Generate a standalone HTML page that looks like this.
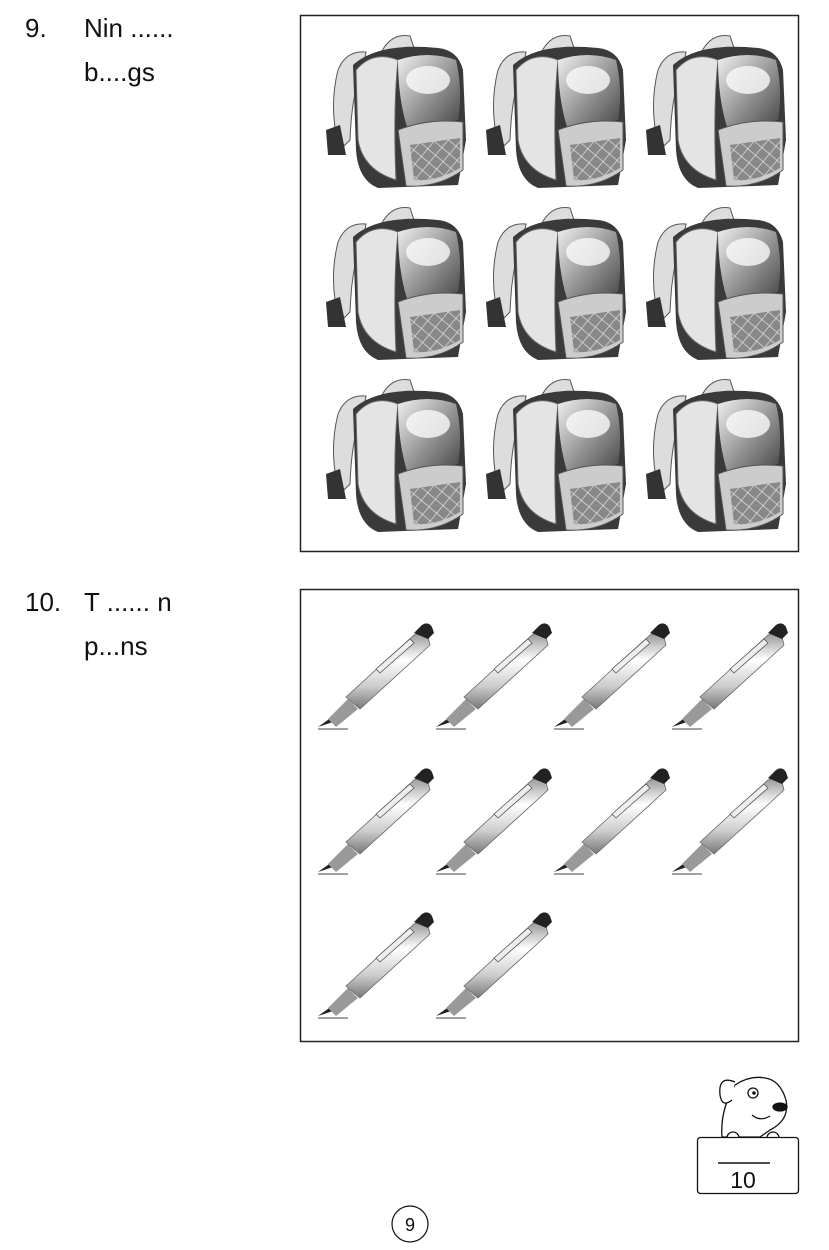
<!DOCTYPE html>
<html><head><meta charset="utf-8"><style>
html,body{margin:0;padding:0;background:#fff;}
body{width:829px;height:1250px;position:relative;overflow:hidden;font-family:"Comic Sans MS","Liberation Sans",sans-serif;color:#111;}
.t{position:absolute;font-size:26px;}
</style></head><body>
<div class="t" style="left:25px;top:13px">9.</div>
<div class="t" style="left:84px;top:13px">Nin ......</div>
<div class="t" style="left:84px;top:57px">b....gs</div>
<div class="t" style="left:25px;top:587px">10.</div>
<div class="t" style="left:84px;top:587px">T ...... n</div>
<div class="t" style="left:84px;top:631px">p...ns</div>

<svg width="829" height="1250" style="position:absolute;left:0;top:0">
<defs>
<linearGradient id="bg1" x1="0" y1="0" x2="1" y2="1"><stop offset="0" stop-color="#f0f0f0"/><stop offset="0.5" stop-color="#999"/><stop offset="1" stop-color="#444"/></linearGradient>
<linearGradient id="pg" x1="0" y1="0" x2="0" y2="1"><stop offset="0" stop-color="#999"/><stop offset="0.35" stop-color="#fff"/><stop offset="0.7" stop-color="#ccc"/><stop offset="1" stop-color="#777"/></linearGradient>
<pattern id="hatch" width="10" height="10" patternUnits="userSpaceOnUse" patternTransform="rotate(40)"><rect width="10" height="10" fill="#888"/><path d="M0 0H10M0 0V10" stroke="#ddd" stroke-width="1.5"/></pattern>
<g id="bp">
 <path d="M20 40 Q28 20 48 22 L44 45 Q34 60 32 110 L22 120 Q10 80 20 40Z" fill="#ddd" stroke="#555"/>
 <path d="M60 30 Q70 2 92 6 L96 18 Q78 14 72 32Z" fill="#ddd" stroke="#555"/>
 <path d="M8 100 L22 95 L28 125 L10 125Z" fill="#333"/>
 <path d="M35 35 Q60 12 120 18 Q140 20 145 40 L148 110 L140 155 L60 158 Q40 150 38 120Z" fill="#3a3a3a"/>
 <path d="M38 40 Q55 20 80 30 Q75 80 78 150 Q45 140 40 110Z" fill="#e4e4e4" stroke="#666"/>
 <path d="M80 30 Q110 20 138 30 Q145 60 140 90 L90 100 Q80 70 80 30Z" fill="url(#bg1)"/>
 <ellipse cx="110" cy="50" rx="22" ry="14" fill="#fafafa" opacity="0.8"/>
 <path d="M80 100 Q110 88 145 92 L145 140 Q120 158 88 156Z" fill="#ccc" stroke="#555"/>
 <path d="M92 115 L142 108 L142 138 Q118 152 96 150Z" fill="url(#hatch)"/>
</g>
<g id="pen">
 <path d="M0 110 L14 100 L18 104 Z" fill="#222"/>
 <path d="M10 102 L30 82 L40 92 L18 110 Z" fill="#999"/>
 <path d="M28 80 L96 18 Q104 14 110 20 L112 28 L42 92 Z" fill="url(#pg)" stroke="#666" stroke-width="0.8"/>
 <path d="M96 16 L104 8 Q110 4 114 10 L116 16 L110 22 Z" fill="#222"/>
 <path d="M58 52 L92 22 L96 26 L62 56 Z" fill="#eee" stroke="#555" stroke-width="0.8"/>
 <path d="M0 112 L30 112" stroke="#444" stroke-width="1"/>
</g>
</defs>
<rect x="300.5" y="15.5" width="498" height="536" fill="none" stroke="#222" stroke-width="1.5"/>
<use href="#bp" x="318" y="30"/><use href="#bp" x="478" y="30"/><use href="#bp" x="638" y="30"/>
<use href="#bp" x="318" y="202"/><use href="#bp" x="478" y="202"/><use href="#bp" x="638" y="202"/>
<use href="#bp" x="318" y="374"/><use href="#bp" x="478" y="374"/><use href="#bp" x="638" y="374"/>
<rect x="300.5" y="589.5" width="498" height="452" fill="none" stroke="#222" stroke-width="1.5"/>
<use href="#pen" x="318" y="617"/><use href="#pen" x="436" y="617"/><use href="#pen" x="554" y="617"/><use href="#pen" x="672" y="617"/>
<use href="#pen" x="318" y="762"/><use href="#pen" x="436" y="762"/><use href="#pen" x="554" y="762"/><use href="#pen" x="672" y="762"/>
<use href="#pen" x="318" y="906"/><use href="#pen" x="436" y="906"/>
<g fill="#fff" stroke="#111" stroke-width="1.3">
 <path d="M722 1137 Q720 1110 735 1085 Q750 1075 765 1078 Q780 1080 786 1100 Q790 1120 770 1130 L760 1137Z"/>
 <path d="M735 1082 Q718 1075 720 1095 Q722 1108 732 1100"/>
 <circle cx="753" cy="1093" r="5"/>
 <ellipse cx="780" cy="1107" rx="7" ry="4" fill="#111"/>
 <path d="M752 1115 Q760 1122 770 1116" fill="none"/>
 <circle cx="733" cy="1138" r="6"/><circle cx="773" cy="1138" r="6"/>
 <rect x="697.5" y="1137.5" width="101" height="56" rx="3"/>
</g>
<circle cx="754" cy="1093" r="1.8" fill="#111"/>
<line x1="718" y1="1163" x2="770" y2="1163" stroke="#111" stroke-width="1.5"/>
<text x="743" y="1188" font-size="23" text-anchor="middle" font-family="Liberation Sans,sans-serif" fill="#111">10</text>
<circle cx="410" cy="1224" r="18" fill="none" stroke="#111" stroke-width="1.2"/>
<text x="410" y="1231" font-size="18" text-anchor="middle" font-family="Liberation Sans,sans-serif" fill="#111">9</text>
</svg>
</body></html>
